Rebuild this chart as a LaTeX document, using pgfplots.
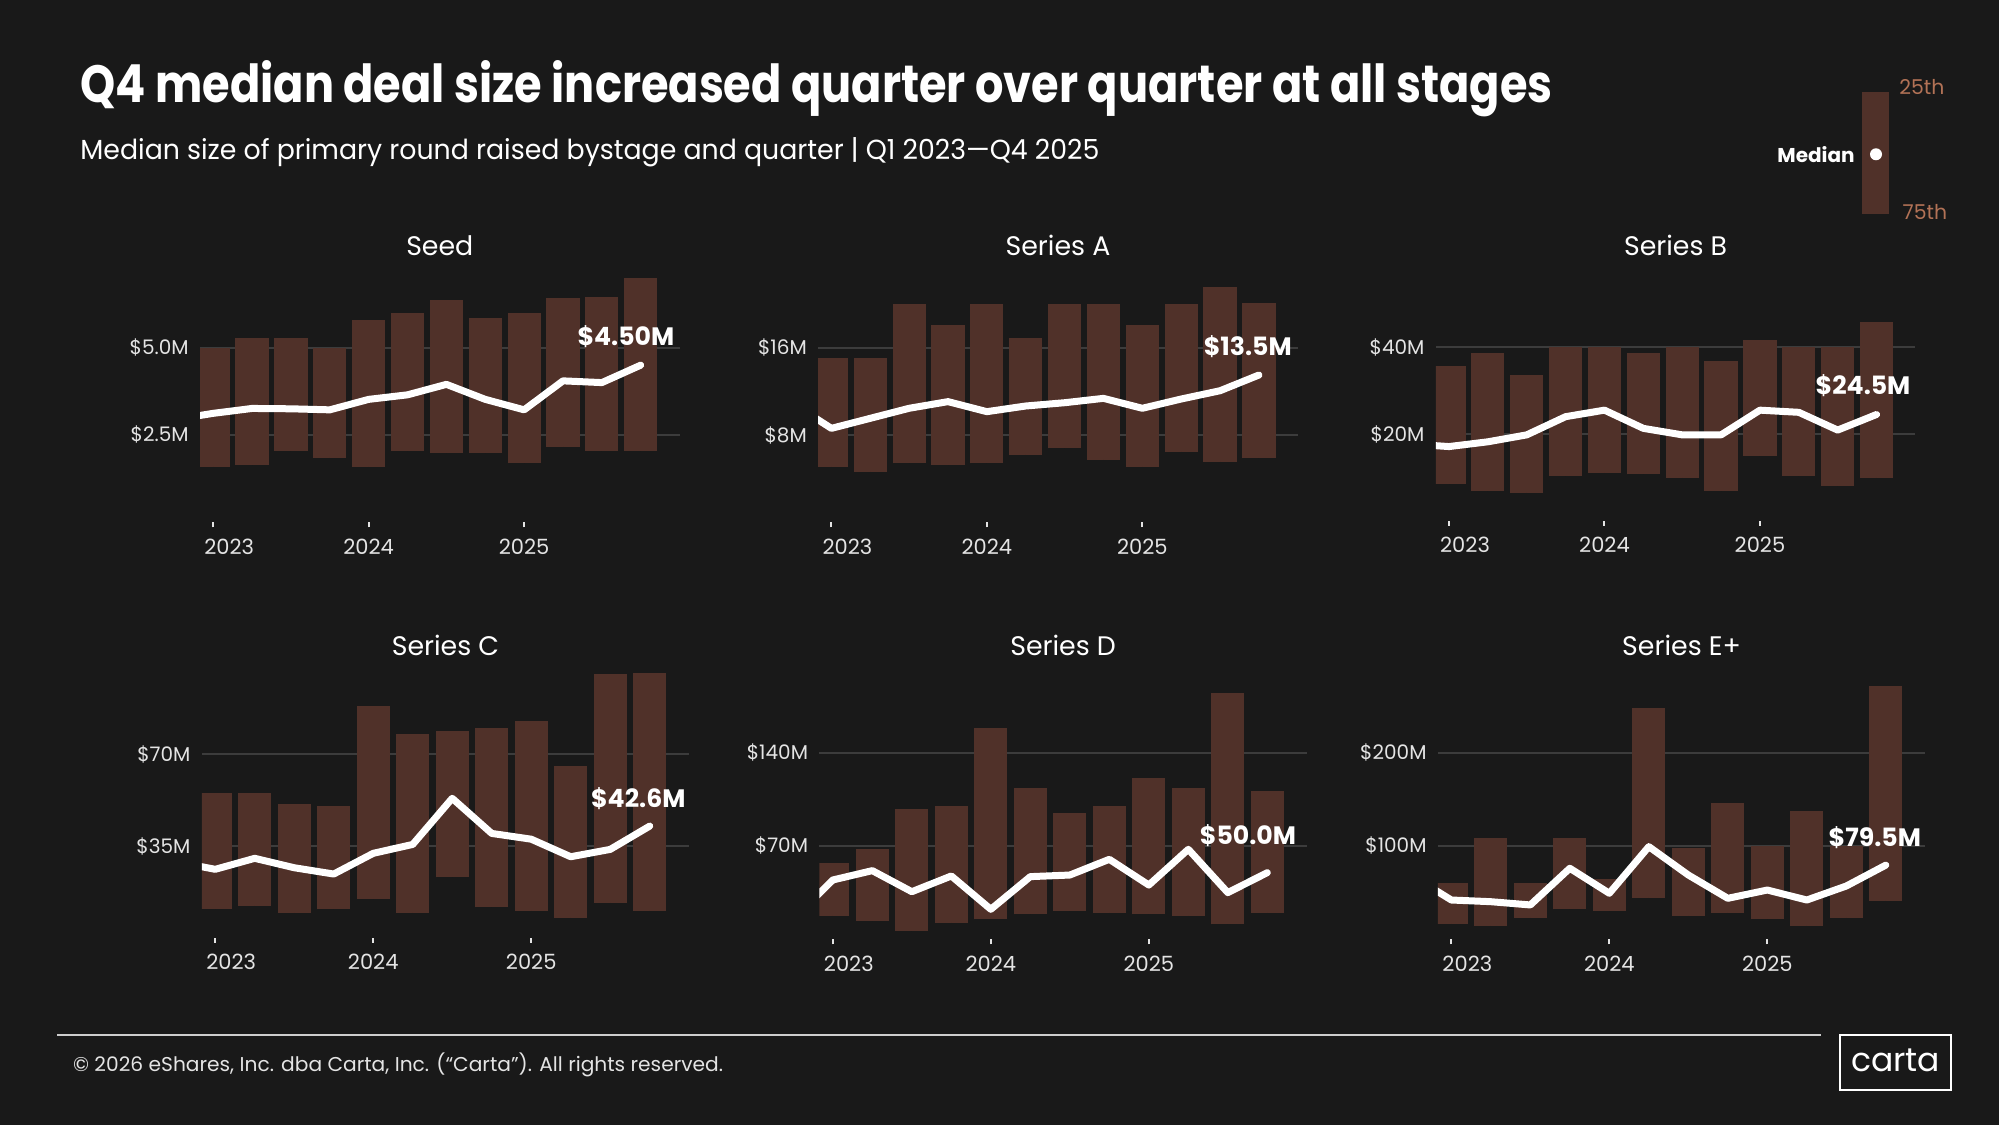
\documentclass[border=0pt]{standalone}
\usepackage{pgfplots}
\pgfplotsset{compat=1.18}
\usepackage{pgfplotstable}
\usepackage{graphicx}
\usepackage{fontspec}
\setmainfont{Poppins}

\definecolor{bgc}{RGB}{25,25,25}
\definecolor{barc}{RGB}{80,49,41}
\definecolor{gridc}{RGB}{60,60,60}
\definecolor{tickc}{RGB}{228,228,228}
\definecolor{pctc}{RGB}{178,114,86}
\definecolor{footc}{RGB}{205,205,205}

% ---------- data: 25th / 75th percentile (bars) ----------
\pgfplotstableread{
q lo hi
1 1.59 5.00
2 1.64 5.29
3 2.04 5.29
4 1.85 5.00
5 1.59 5.79
6 2.04 5.98
7 1.98 6.37
8 1.98 5.84
9 1.69 5.98
10 2.17 6.41
11 2.04 6.46
12 2.04 6.99
}\seedbars
\pgfplotstableread{
q med
0 2.94
1 3.12
2 3.26
3 3.25
4 3.22
5 3.52
6 3.65
7 3.95
8 3.52
9 3.22
10 4.05
11 4.00
12 4.50
}\seedmed
\pgfplotstableread{
q lo hi
1 5.10 15.03
2 4.64 15.03
3 5.41 19.98
4 5.25 18.08
5 5.41 19.98
6 6.17 16.92
7 6.78 19.98
8 5.71 19.98
9 5.10 18.08
10 6.47 19.98
11 5.56 21.60
12 5.86 20.13
}\abars
\pgfplotstableread{
q med
0 10.9
1 8.61
2 9.53
3 10.45
4 11.06
5 10.14
6 10.66
7 10.96
8 11.36
9 10.45
10 11.30
11 12.06
12 13.5
}\amed
\pgfplotstableread{
q lo hi
1 8.4 35.7
2 6.85 38.6
3 6.46 33.6
4 10.3 40.0
5 11.1 40.0
6 10.7 38.6
7 9.9 40.0
8 6.85 36.8
9 14.9 41.8
10 10.3 40.0
11 8.0 40.0
12 9.9 45.9
}\bbars
\pgfplotstableread{
q med
0 17.7
1 17.1
2 18.2
3 19.8
4 24.0
5 25.5
6 21.3
7 19.8
8 19.8
9 25.5
10 25.0
11 20.9
12 24.5
}\bmed
\pgfplotstableread{
q lo hi
1 10.8 55.3
2 12.1 55.3
3 9.5 51.0
4 10.8 50.3
5 14.7 88.4
6 9.5 77.6
7 23.0 78.9
8 11.6 80.2
9 10.2 82.7
10 7.6 65.5
11 13.4 100.5
12 10.2 101.1
}\cbars
\pgfplotstableread{
q med
0 29.0
1 26.1
2 30.3
3 26.7
4 24.3
5 32.2
6 35.6
7 53.2
8 39.8
9 37.6
10 30.9
11 33.7
12 42.6
}\cmed
\pgfplotstableread{
q lo hi
1 17.5 57.5
2 13.7 67.5
3 6.2 97.5
4 12.5 100.0
5 15.0 158.7
6 18.7 113.7
7 21.2 95.0
8 20.0 100.0
9 18.7 121.2
10 17.5 113.7
11 11.2 185.0
12 20.0 111.2
}\dbars
\pgfplotstableread{
q med
0 15.0
1 44.5
2 51.5
3 35.7
4 47.5
5 22.5
6 47.0
7 48.2
8 60.0
9 40.7
10 67.5
11 35.0
12 50.0
}\dmed
\pgfplotstableread{
q lo hi
1 16.4 60.7
2 14.3 108.9
3 23.2 60.7
4 32.1 108.9
5 30.3 64.3
6 44.6 248.2
7 25.0 98.2
8 28.6 146.4
9 21.4 100.0
10 14.3 137.5
11 23.2 100.0
12 41.1 271.4
}\ebars
\pgfplotstableread{
q med
0 68.3
1 42.1
2 40.3
3 36.8
4 76.1
5 49.3
6 99.3
7 68.9
8 43.9
9 52.8
10 42.1
11 57.1
12 79.5
}\emed

\pgfplotsset{
  panel/.style={
    scale only axis, anchor=south west,
    xmin=0.66, xmax=13, ymin=0,
    axis lines*=left,
    axis line style={draw=none},
    xtick={1,5,9}, xticklabels={\hspace*{16pt}2023,2024,2025},
    ymajorgrids, grid style={gridc, line width=1pt},
    ytick style={draw=none},
    xtick style={draw=tickc, line width=1pt},
    tick align=outside, major tick length=2.5pt,
    clip mode=individual,
    xticklabel style={font=\fontsize{10.5}{12}\selectfont, text=tickc, anchor=north, inner sep=0pt, yshift=-5.6pt},
    yticklabel style={font=\fontsize{10}{12}\selectfont, text=tickc, anchor=east, inner sep=0pt, xshift=-3pt},
    title style={font=\fontsize{13.4}{16}\selectfont, text=white, anchor=base, at={(0.5,1)}},
  },
  bars/.style={only marks, mark=*, mark size=0pt, mark options={draw=none, fill=none}, forget plot,
    error bars/.cd, y dir=plus, y explicit, error mark=none,
    error bar style={line width=16.6pt, draw=barc, line cap=butt}},
  medline/.style={white, line width=3.5pt, line join=round, line cap=round, mark=none},
}
\tikzset{vlab/.style={anchor=base, inner sep=0pt, text=white, font=\bfseries\fontsize{12.6}{15}\selectfont}}

\begin{document}
\begin{tikzpicture}[x=0.5pt,y=0.5pt]
\path[use as bounding box] (0,0) rectangle (1999,1125);
\fill[bgc] (0,0) rectangle (1999,1125);

% ---- Seed ----
\begin{axis}[panel, at={(100pt,301.35pt)}, width=239.8pt, height=130.15pt, ymax=7.454,
  ytick={2.5,5}, yticklabels={\$2.5M,\$5.0M}, title={Seed}, title style={yshift=-2.55pt}]
\addplot[bars] table[x=q, y=lo, y error expr=\thisrow{hi}-\thisrow{lo}] {\seedbars};
\addplot[medline] table[x=q, y=med] {\seedmed};
\node[vlab, xshift=-7.4pt, yshift=9.75pt] at (axis cs:12,4.50) {\$4.50M};
\end{axis}

% ---- Series A ----
\begin{axis}[panel, at={(409.1pt,301.35pt)}, width=239.8pt, height=130.15pt, ymax=23.86,
  ytick={8,16}, yticklabels={\$8M,\$16M}, title={Series A}, title style={yshift=-2.55pt}]
\addplot[bars] table[x=q, y=lo, y error expr=\thisrow{hi}-\thisrow{lo}] {\abars};
\addplot[medline] table[x=q, y=med] {\amed};
\node[vlab, xshift=-5.6pt, yshift=9.65pt] at (axis cs:12,13.5) {\$13.5M};
\end{axis}

% ---- Series B ----
\begin{axis}[panel, at={(717.9pt,302.15pt)}, width=239.8pt, height=129.35pt, ymax=59.68,
  ytick={20,40}, yticklabels={\$20M,\$40M}, title={Series B}, title style={yshift=-2.55pt}]
\addplot[bars] table[x=q, y=lo, y error expr=\thisrow{hi}-\thisrow{lo}] {\bbars};
\addplot[medline] table[x=q, y=med] {\bmed};
\node[vlab, xshift=-6.75pt, yshift=9.75pt] at (axis cs:12,24.5) {\$24.5M};
\end{axis}

% ---- Series C ----
\begin{axis}[panel, at={(100.9pt,93.65pt)}, width=243.7pt, height=138.85pt, ymax=106.0,
  ytick={35,70}, yticklabels={\$35M,\$70M}, title={Series C}, title style={yshift=-3.55pt}]
\addplot[bars] table[x=q, y=lo, y error expr=\thisrow{hi}-\thisrow{lo}] {\cbars};
\addplot[medline] table[x=q, y=med] {\cmed};
\node[vlab, xshift=-5.7pt, yshift=9.4pt] at (axis cs:12,42.6) {\$42.6M};
\end{axis}

% ---- Series D ----
\begin{axis}[panel, at={(409.7pt,92.85pt)}, width=243.7pt, height=139.65pt, ymax=209.5,
  ytick={70,140}, yticklabels={\$70M,\$140M}, title={Series D}, title style={yshift=-3.55pt}]
\addplot[bars] table[x=q, y=lo, y error expr=\thisrow{hi}-\thisrow{lo}] {\dbars};
\addplot[medline] table[x=q, y=med] {\dmed};
\node[vlab, xshift=-9.65pt, yshift=14.15pt] at (axis cs:12,50.0) {\$50.0M};
\end{axis}

% ---- Series E+ ----
\begin{axis}[panel, at={(718.95pt,92.85pt)}, width=243.7pt, height=139.65pt, ymax=299.3,
  ytick={100,200}, yticklabels={\$100M,\$200M}, title={Series E+}, title style={yshift=-3.55pt}]
\addplot[bars] table[x=q, y=lo, y error expr=\thisrow{hi}-\thisrow{lo}] {\ebars};
\addplot[medline] table[x=q, y=med] {\emed};
\node[vlab, xshift=-5.5pt, yshift=9.2pt] at (axis cs:12,79.5) {\$79.5M};
\end{axis}

% ---- titles ----
\node[anchor=base west, inner sep=0pt, text=white] at (80,1022.3)
  {\resizebox{736pt}{\height}{\bfseries\fontsize{26.2}{30}\selectfont Q4 median deal size increased quarter over quarter at all stages}};
\node[anchor=base west, inner sep=0pt, text=white] at (80,965.7)
  {\resizebox{509.5pt}{\height}{\fontsize{13.8}{16}\selectfont Median size of primary round raised bystage and quarter | Q1 2023—Q4 2025}};

% ---- legend ----
\fill[barc] (1862.3,910.7) rectangle (1889,1032.7);
\fill[white] (1876,970.7) circle (6);
\node[anchor=base east, inner sep=0pt, text=white] at (1855,962.3) {\bfseries\fontsize{10}{12}\selectfont Median};
\node[anchor=base west, inner sep=0pt, text=pctc] at (1899,1030) {\fontsize{10.2}{12}\selectfont 25th};
\node[anchor=base west, inner sep=0pt, text=pctc] at (1902.3,905) {\fontsize{10.2}{12}\selectfont 75th};

% ---- footer ----
\draw[footc, line width=1pt] (57,90) -- (1821,90);
\node[anchor=base west, inner sep=0pt, text=tickc] at (72.7,53.3)
  {\resizebox{325pt}{\height}{\fontsize{10}{12}\selectfont © 2026 eShares, Inc. dba Carta, Inc. (“Carta”). All rights reserved.}};
\draw[white, line width=1pt] (1840,35) rectangle (1951,90.3);
\node[anchor=base, inner sep=0pt, text=white] at (1895.5,53) {\fontsize{16.5}{20}\selectfont carta};
\end{tikzpicture}
\end{document}
